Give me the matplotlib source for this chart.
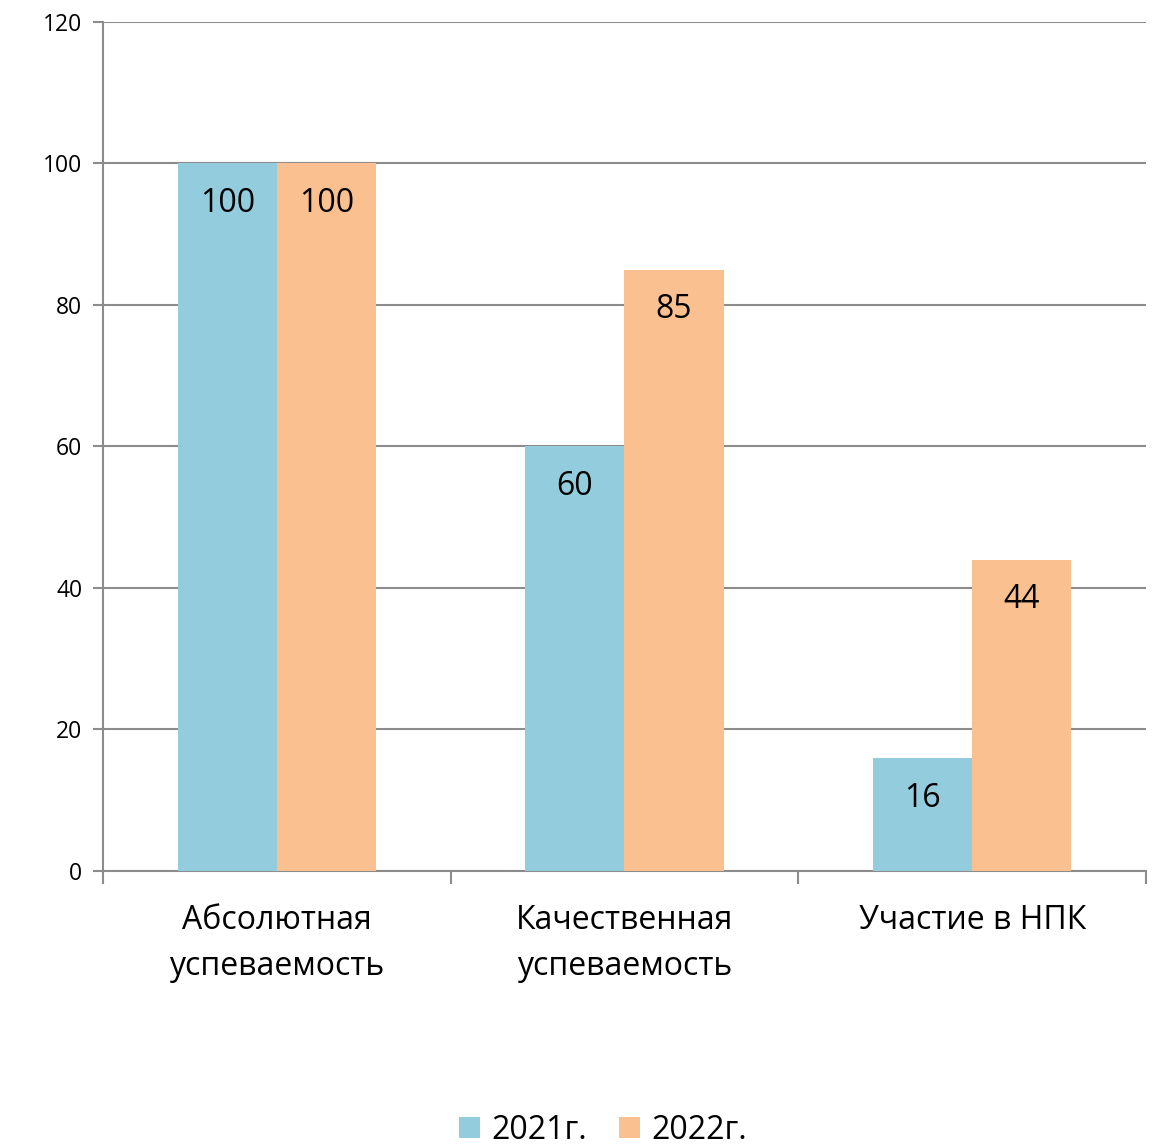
import numpy as np
import matplotlib.pyplot as plt

plt.rcParams['font.family'] = ['Open Sans', 'DejaVu Sans']

categories = ["Абсолютная\nуспеваемость", "Качественная\nуспеваемость", "Участие в НПК"]
years = ["2021г.", "2022г."]
vals_2021 = [100, 60, 16]
vals_2022 = [100, 85, 44]
yticks = [0, 20, 40, 60, 80, 100, 120]

blue = "#93CDDD"
orange = "#FAC090"
grid_col = "#8C8C8C"

fig = plt.figure(figsize=(11.53, 11.45), dpi=100)
ax = fig.add_axes([0.0893, 0.2393, 0.9046, 0.7415])

x = np.arange(len(categories))
w = 0.285
b1 = ax.bar(x - w / 2, vals_2021, w, color=blue, label=years[0], zorder=3)
b2 = ax.bar(x + w / 2, vals_2022, w, color=orange, label=years[1], zorder=3)

# value labels inside the top of each bar
for bars in (b1, b2):
    for r in bars:
        ax.annotate(f"{r.get_height():g}", (r.get_x() + r.get_width() / 2, r.get_height()),
                    xytext=(0, -29), textcoords="offset points", ha="center", va="center",
                    fontsize=23, zorder=4)

ax.set_xlim(-0.5, 2.5)
ax.set_ylim(0, 120)
ax.set_yticks(yticks)
ax.yaxis.grid(True, color=grid_col, linewidth=1.5, zorder=0)
ax.tick_params(axis="y", labelsize=16.5, length=7, width=1.5, color=grid_col, pad=8)

ax.set_xticks(x)
ax.set_xticklabels(categories, fontsize=23, linespacing=1.5)
ax.tick_params(axis="x", which="major", length=0, pad=24)
ax.set_xticks([-0.5, 0.5, 1.5, 2.5], minor=True)
ax.tick_params(axis="x", which="minor", length=9, width=1.5, color=grid_col)

for s in ["top", "right"]:
    ax.spines[s].set_visible(False)
for s in ["left", "bottom"]:
    ax.spines[s].set_color(grid_col)
    ax.spines[s].set_linewidth(1.5)

fig.legend(handles=[b1, b2], labels=years, loc="center", bbox_to_anchor=(0.523, 0.013),
           ncol=2, frameon=False, fontsize=23, handlelength=0.65, handleheight=0.65,
           handletextpad=0.35, columnspacing=1.0)

plt.savefig("out.png")
